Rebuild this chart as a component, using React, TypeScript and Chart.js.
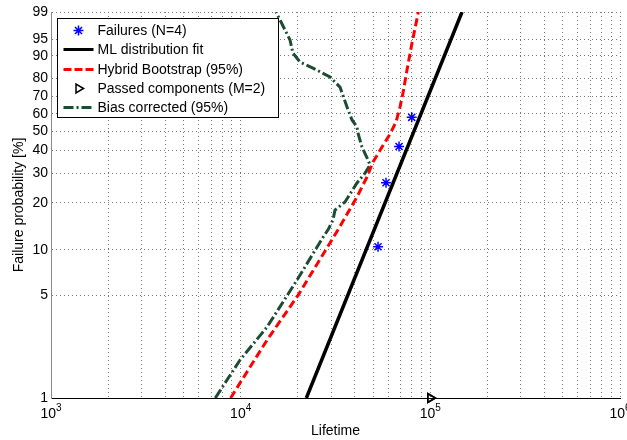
import React, { useEffect, useRef } from 'react';
import { Chart, registerables } from 'chart.js';

Chart.register(...registerables);

const FONT = "'Liberation Sans', Arial, Helvetica, sans-serif";

// Probability axis (Weibull paper) tick labels, in percent
const yTickPercents = [1, 5, 10, 20, 30, 40, 50, 60, 70, 80, 90, 95, 99];
// Lifetime axis decades (labelled as powers of ten)
const xDecades = [3, 4, 5, 6];

// Observed failures (median ranks)
const failureLifetimes = [53000, 58400, 68400, 79800];
const failureProbs = [10.5, 26.4, 42.0, 57.9];

// Components still running at the end of the test
const passedLifetimes = [100000, 100000];
const passedProbs = [1, 1];

// Maximum-likelihood Weibull fit
const mlFitLifetimes = [22200, 146900];
const mlFitProbs = [1, 99];

// Hybrid bootstrap confidence bound (95%)
const bootLifetimes = [8850, 13770, 20060, 32600, 41050, 46350, 49860, 55610, 61280, 65900, 69180, 71760, 75330, 80050, 86500];
const bootProbs = [1, 2.49, 5.0, 13.5, 21.7, 28.5, 34.7, 41.7, 48.5, 55.2, 63.9, 72.0, 84.0, 94.0, 99];

// Bias-corrected confidence bound (95%)
const biasLifetimes = [7350, 9920, 13766, 19820, 27180, 28870, 30670, 31430, 35480, 41050, 45250, 48080, 46910, 43620, 41560, 41050, 38640, 37720, 36370, 33400, 29580, 24060, 20550, 18870, 18200, 15360];
const biasProbs = [1, 1.82, 3.05, 6.33, 12.1, 13.5, 15.6, 18.0, 20.2, 26.3, 30.0, 33.4, 35.6, 41.7, 49.0, 52.4, 56.4, 59.3, 63.9, 75.3, 80.6, 84.9, 87.5, 90.9, 94.8, 99];

const legendLabels = [
  'Failures (N=4)',
  'ML distribution fit',
  'Hybrid Bootstrap (95%)',
  'Passed components (M=2)',
  'Bias corrected (95%)',
];

const BLUE = '#0000ff';
const RED = '#ff0000';
const GREEN = '#1c4d33';
const GRID = '#7a7a7a';

// Weibull probability transform and its inverse
const weib = (p: number) => Math.log(-Math.log(1 - p / 100));
const unweib = (w: number) => 100 * (1 - Math.exp(-Math.exp(w)));

const toPoints = (xs: number[], ps: number[]) => xs.map((x, i) => ({ x, y: weib(ps[i]) }));

const xGridValues: number[] = [];
for (let k = 3; k < 6; k++) {
  for (let m = 1; m < 10; m++) xGridValues.push(m * Math.pow(10, k));
}
xGridValues.push(1e6);

function drawStar(ctx: CanvasRenderingContext2D, x: number, y: number, r: number) {
  ctx.beginPath();
  ctx.moveTo(x - r, y); ctx.lineTo(x + r, y);
  ctx.moveTo(x, y - r); ctx.lineTo(x, y + r);
  const d = r * 0.7071;
  ctx.moveTo(x - d, y - d); ctx.lineTo(x + d, y + d);
  ctx.moveTo(x - d, y + d); ctx.lineTo(x + d, y - d);
  ctx.stroke();
}

function drawRightTriangle(ctx: CanvasRenderingContext2D, x: number, y: number, r: number) {
  const h = r * Math.sqrt(3) / 2;
  ctx.beginPath();
  ctx.moveTo(x + r, y);
  ctx.lineTo(x - r / 2, y - h);
  ctx.lineTo(x - r / 2, y + h);
  ctx.closePath();
  ctx.stroke();
}

const overlayPlugin = {
  id: 'overlay',
  afterDatasetsDraw(chart: any) {
    const ctx: CanvasRenderingContext2D = chart.ctx;
    const area = chart.chartArea;
    ctx.save();

    // Legend box
    const lx = Math.round(area.left + 6) + 0.5;
    const ly = Math.round(area.top + 6) + 0.5;
    const lw = 221;
    const lh = 99;
    ctx.fillStyle = '#ffffff';
    ctx.fillRect(lx, ly, lw, lh);
    ctx.strokeStyle = '#000000';
    ctx.lineWidth = 1;
    ctx.setLineDash([]);
    ctx.strokeRect(lx, ly, lw, lh);

    const rowY = [12, 31, 51, 70, 89].map((d) => ly + d);
    const sx0 = lx + 6;
    const sx1 = lx + 36;
    const sxm = (sx0 + sx1) / 2;
    const tx = lx + 40;

    // Failures marker
    ctx.strokeStyle = BLUE;
    ctx.lineWidth = 1.5;
    drawStar(ctx, sxm, rowY[0], 5);
    // ML fit line
    ctx.strokeStyle = '#000';
    ctx.lineWidth = 3;
    ctx.beginPath(); ctx.moveTo(sx0, rowY[1]); ctx.lineTo(sx1, rowY[1]); ctx.stroke();
    // Bootstrap line
    ctx.strokeStyle = RED;
    ctx.setLineDash([8, 3]);
    ctx.beginPath(); ctx.moveTo(sx0, rowY[2]); ctx.lineTo(sx1, rowY[2]); ctx.stroke();
    ctx.setLineDash([]);
    // Passed marker
    ctx.strokeStyle = '#000';
    ctx.lineWidth = 1.5;
    drawRightTriangle(ctx, sxm, rowY[3], 5);
    // Bias corrected line
    ctx.strokeStyle = GREEN;
    ctx.lineWidth = 3;
    ctx.setLineDash([10, 3, 2, 3]);
    ctx.beginPath(); ctx.moveTo(sx0, rowY[4]); ctx.lineTo(sx1, rowY[4]); ctx.stroke();
    ctx.setLineDash([]);

    ctx.fillStyle = '#000';
    ctx.font = `14px ${FONT}`;
    ctx.textAlign = 'left';
    ctx.textBaseline = 'middle';
    legendLabels.forEach((t, i) => ctx.fillText(t, tx, rowY[i] + 1));

    ctx.restore();
  },
  afterDraw(chart: any) {
    const ctx: CanvasRenderingContext2D = chart.ctx;
    const area = chart.chartArea;
    const xs = chart.scales.x;
    ctx.save();
    ctx.fillStyle = '#000';

    // Lifetime decade labels, 10 with a raised exponent
    ctx.textBaseline = 'alphabetic';
    ctx.textAlign = 'left';
    xDecades.forEach((k) => {
      const px = xs.getPixelForValue(Math.pow(10, k));
      ctx.font = `14px ${FONT}`;
      const wBase = ctx.measureText('10').width;
      ctx.font = `10px ${FONT}`;
      const wExp = ctx.measureText(String(k)).width;
      const start = px - (wBase + wExp) / 2;
      ctx.font = `14px ${FONT}`;
      ctx.fillText('10', start, area.bottom + 20);
      ctx.font = `10px ${FONT}`;
      ctx.fillText(String(k), start + wBase, area.bottom + 13);
    });

    // Axis titles
    ctx.font = `14px ${FONT}`;
    ctx.textAlign = 'center';
    ctx.fillText('Lifetime', (area.left + area.right) / 2, area.bottom + 37);

    ctx.translate(19, (area.top + area.bottom) / 2);
    ctx.rotate(-Math.PI / 2);
    ctx.textBaseline = 'middle';
    ctx.fillText('Failure probability [%]', 0, 0);
    ctx.restore();
  },
};

export default function App() {
  const canvasRef = useRef<HTMLCanvasElement | null>(null);

  useEffect(() => {
    const canvas = canvasRef.current;
    if (!canvas) return;

    const chart = new Chart(canvas, {
      type: 'scatter',
      data: {
        datasets: [
          {
            label: 'Failures (N=4)',
            data: toPoints(failureLifetimes, failureProbs),
            showLine: false,
            pointStyle: 'star',
            pointRadius: 5,
            borderColor: BLUE,
            backgroundColor: BLUE,
            borderWidth: 1.5,
            order: 1,
          },
          {
            label: 'ML distribution fit',
            data: toPoints(mlFitLifetimes, mlFitProbs),
            showLine: true,
            borderColor: '#000',
            borderWidth: 3.5,
            pointRadius: 0,
            tension: 0,
            order: 2,
          },
          {
            label: 'Hybrid Bootstrap (95%)',
            data: toPoints(bootLifetimes, bootProbs),
            showLine: true,
            borderColor: RED,
            borderWidth: 3,
            borderDash: [8, 4],
            pointRadius: 0,
            tension: 0,
            order: 3,
          },
          {
            label: 'Passed components (M=2)',
            data: toPoints(passedLifetimes, passedProbs),
            showLine: false,
            pointStyle: 'triangle',
            rotation: 90,
            pointRadius: 5,
            borderColor: '#000',
            backgroundColor: 'rgba(0,0,0,0)',
            borderWidth: 1.5,
            clip: false,
            order: 0,
          },
          {
            label: 'Bias corrected (95%)',
            data: toPoints(biasLifetimes, biasProbs),
            showLine: true,
            borderColor: GREEN,
            borderWidth: 3,
            borderDash: [10, 3, 2, 3],
            pointRadius: 0,
            tension: 0,
            order: 4,
          },
        ],
      },
      options: {
        animation: false,
        responsive: false,
        devicePixelRatio: 1,
        layout: { padding: { top: 12, right: 7, left: 0, bottom: 0 } },
        plugins: {
          legend: { display: false },
          tooltip: { enabled: false },
        },
        scales: {
          x: {
            type: 'logarithmic',
            min: 1000,
            max: 1e6,
            afterBuildTicks: (s: any) => {
              s.ticks = xGridValues.map((v) => ({ value: v }));
            },
            afterFit: (s: any) => {
              s.height = 42;
            },
            ticks: { display: false },
            grid: { color: GRID, lineWidth: 1, drawTicks: false },
            border: { display: true, color: '#000', width: 1, dash: [1, 3] },
          },
          y: {
            type: 'linear',
            min: weib(1),
            max: weib(99),
            afterBuildTicks: (s: any) => {
              s.ticks = yTickPercents.map((p) => ({ value: weib(p) }));
            },
            afterFit: (s: any) => {
              s.width = 51;
            },
            ticks: {
              autoSkip: false,
              padding: 3,
              color: '#000',
              font: { family: FONT, size: 14 },
              callback: (v: any) => String(Math.round(unweib(Number(v)))),
            },
            grid: { color: GRID, lineWidth: 1, drawTicks: false },
            border: { display: true, color: '#8a8a8a', width: 1, dash: [1, 3] },
          },
        },
      },
      plugins: [overlayPlugin],
    } as any);

    return () => chart.destroy();
  }, []);

  return (
    <div style={{ position: 'fixed', left: 0, top: 0, width: 627, height: 440, background: '#fff' }}>
      <canvas ref={canvasRef} width={627} height={440} style={{ display: 'block' }} />
    </div>
  );
}
